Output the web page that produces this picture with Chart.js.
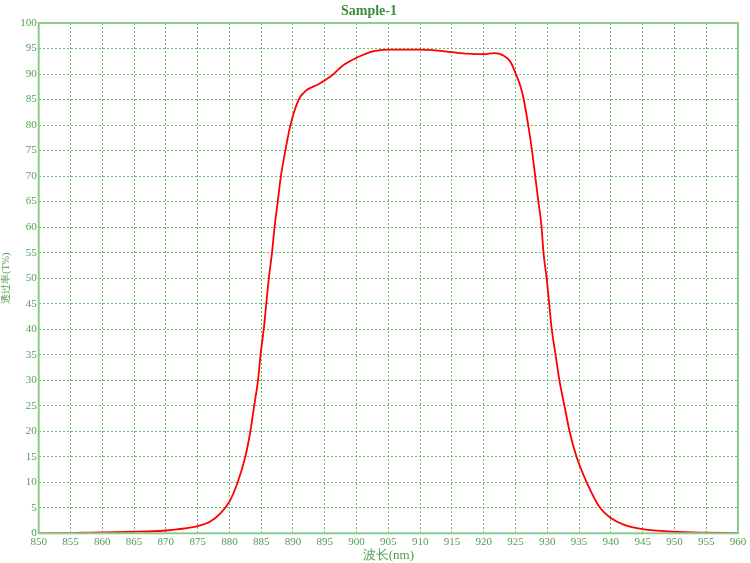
<!DOCTYPE html>
<html>
<head>
<meta charset="utf-8">
<script src="https://cdn.jsdelivr.net/npm/chart.js@4.4.0/dist/chart.umd.min.js"></script>
<style>
html,body{margin:0;padding:0;background:#fff;}
#wrap{width:750px;height:563px;position:relative;}
</style>
</head>
<body>
<div id="wrap"><canvas id="c" width="750" height="563"></canvas></div>
<script>
// Data
const chartTitle = "Sample-1";
const xAxisTitle = "波长(nm)";
const yAxisTitle = "透过率(T%)";
const xTicks = [850,855,860,865,870,875,880,885,890,895,900,905,910,915,920,925,930,935,940,945,950,955,960];
const yTicks = [0,5,10,15,20,25,30,35,40,45,50,55,60,65,70,75,80,85,90,95,100];
const wavelength = [850,855,858,860,865,868,870,872,875,877,878.5,880,881.3,882.5,883.3,883.9,884.5,884.9,885.4,885.8,886.2,886.7,887.1,887.6,888.1,888.8,889.6,890.9,892.1,894,896,898,900,902.7,905,910,912,915,917.5,920,921.6,923,924.2,925,925.8,926.3,927,927.6,928.1,928.6,929.1,929.4,929.9,930.3,930.7,931.3,931.9,932.7,933.5,934.6,936.2,938.3,940,942,945,950,955,960];
const transmittance = [0,0.05,0.15,0.2,0.3,0.4,0.55,0.8,1.4,2.3,3.8,6.2,10,15,20,25,30,35,40,45,50,55,60,65,70,75,80,85,86.8,88.0,89.6,91.8,93.2,94.5,94.8,94.8,94.7,94.3,94.0,93.9,94.1,93.7,92.4,90.2,87.5,85,80,75,70,65,60,55,50,45,40,35,30,25,20,15,10,5,3.0,1.7,0.8,0.3,0.12,0.05];

const green = '#4f9f4f';
const frame = {
  id:'frame',
  afterDraw(chart){
    const a = chart.chartArea, ctx = chart.ctx;
    ctx.save();
    ctx.strokeStyle = '#8ccc8c';
    ctx.lineWidth = 2;
    ctx.strokeRect(a.left, a.top, a.right-a.left, a.bottom-a.top);
    ctx.restore();
  }
};

new Chart(document.getElementById('c'), {
  type:'line',
  data:{
    datasets:[{
      data: wavelength.map((w,i)=>({x:w,y:transmittance[i]})),
      borderColor:'#ff0000',
      borderWidth:1.8,
      pointRadius:0,
      fill:false,
      cubicInterpolationMode:'monotone'
    }]
  },
  options:{
    responsive:false,
    animation:false,
    devicePixelRatio:1,
    layout:{padding:{left:0,right:12,top:0,bottom:0}},
    plugins:{
      legend:{display:false},
      tooltip:{enabled:false},
      title:{
        display:true,
        text:chartTitle,
        color:'#3c8c3c',
        font:{family:'Liberation Serif',size:14,weight:'bold'},
        padding:{top:3,bottom:3.2}
      }
    },
    scales:{
      x:{
        type:'linear',
        min:850,max:960,
        afterBuildTicks(s){ s.ticks = xTicks.map(v=>({value:v})); },
        afterFit(s){ s.height = 29.7; },
        ticks:{color:green,font:{family:'Liberation Serif',size:11},padding:2,maxRotation:0,autoSkip:false},
        grid:{color:'#6cb86c',lineWidth:1,drawTicks:false},
        border:{display:false,dash:[2,2]},
        title:{display:true,text:xAxisTitle,color:green,font:{family:'Liberation Serif',size:13},padding:{top:0,bottom:0}}
      },
      y:{
        type:'linear',
        min:0,max:100,
        afterBuildTicks(s){ s.ticks = yTicks.map(v=>({value:v})); },
        afterFit(s){ s.width = 38.7; },
        ticks:{color:green,font:{family:'Liberation Serif',size:11},padding:2,autoSkip:false},
        grid:{color:'#6cb86c',lineWidth:1,drawTicks:false},
        border:{display:false,dash:[2,2]},
        title:{display:true,text:yAxisTitle,color:green,font:{family:'Liberation Serif',size:10},padding:{top:0,bottom:0}}
      }
    }
  },
  plugins:[frame]
});
</script>
</body>
</html>
